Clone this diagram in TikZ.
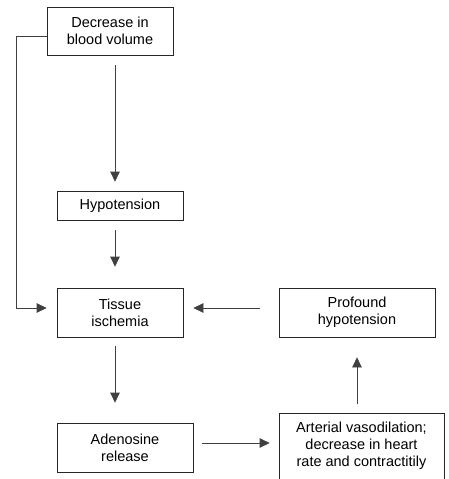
\documentclass[tikz,border=0pt]{standalone}
\usepackage{fontspec}
\setmainfont{Liberation Sans}
\usetikzlibrary{calc,arrows.meta}
\begin{document}
\begin{tikzpicture}[x=1pt,y=-1pt,
  box/.style={draw=black!85, line width=0.7pt, align=center, inner sep=0pt,
    font=\fontsize{14.5}{16.7}\selectfont},
  arr/.style={draw=black!75, line width=0.7pt, -{Triangle[width=9.5pt,length=10pt]}}]
\useasboundingbox (0,0) rectangle (449,479);
\node[box, minimum width=126pt, minimum height=48pt] (b1) at (110,31) {Decrease in\\blood volume};
\node[box, minimum width=126pt, minimum height=29pt] (hypo) at (120,205.5) {Hypotension};
\node[box, minimum width=126pt, minimum height=49pt] (tis) at (120,312.5) {Tissue\\ischemia};
\node[box, minimum width=136pt, minimum height=49pt] (aden) at (125,447.5) {Adenosine\\release};
\node[box, minimum width=156pt, minimum height=49pt] (prof) at (357,312.5) {Profound\\hypotension};
\begin{scope}
\clip (0,0) rectangle (449,479);
\node[box, anchor=north, minimum width=165pt, inner ysep=9pt, text depth=25pt] (art) at (361.5,413) {Arterial vasodilation;\\decrease in heart\\rate and contractitily};
\end{scope}
\draw[arr] ($(b1.south)+(5,10)$) -- ($(hypo.north)+(-5,-9)$);
\draw[arr] ($(hypo.south)+(-5,10)$) -- ($(tis.north)+(-5,-21)$);
\draw[arr] ($(tis.south)+(-5,9)$) -- ($(aden.north)+(-10,-20)$);
\draw[arr] ($(aden.east)+(9,-4.5)$) -- ($(art.north west)+(-9,30)$);
\draw[arr] ($(art.north)+(-4.5,-9)$) -- ($(prof.south)+(0,20)$);
\draw[arr] ($(prof.west)+(-19,-4.5)$) -- ($(tis.east)+(10,-4.5)$);
\draw[arr] ($(b1.west)+(0,5)$) -| ($(tis.west)+(-40,-4.5)$) -- ($(tis.west)+(-10,-4.5)$);
\end{tikzpicture}
\end{document}
